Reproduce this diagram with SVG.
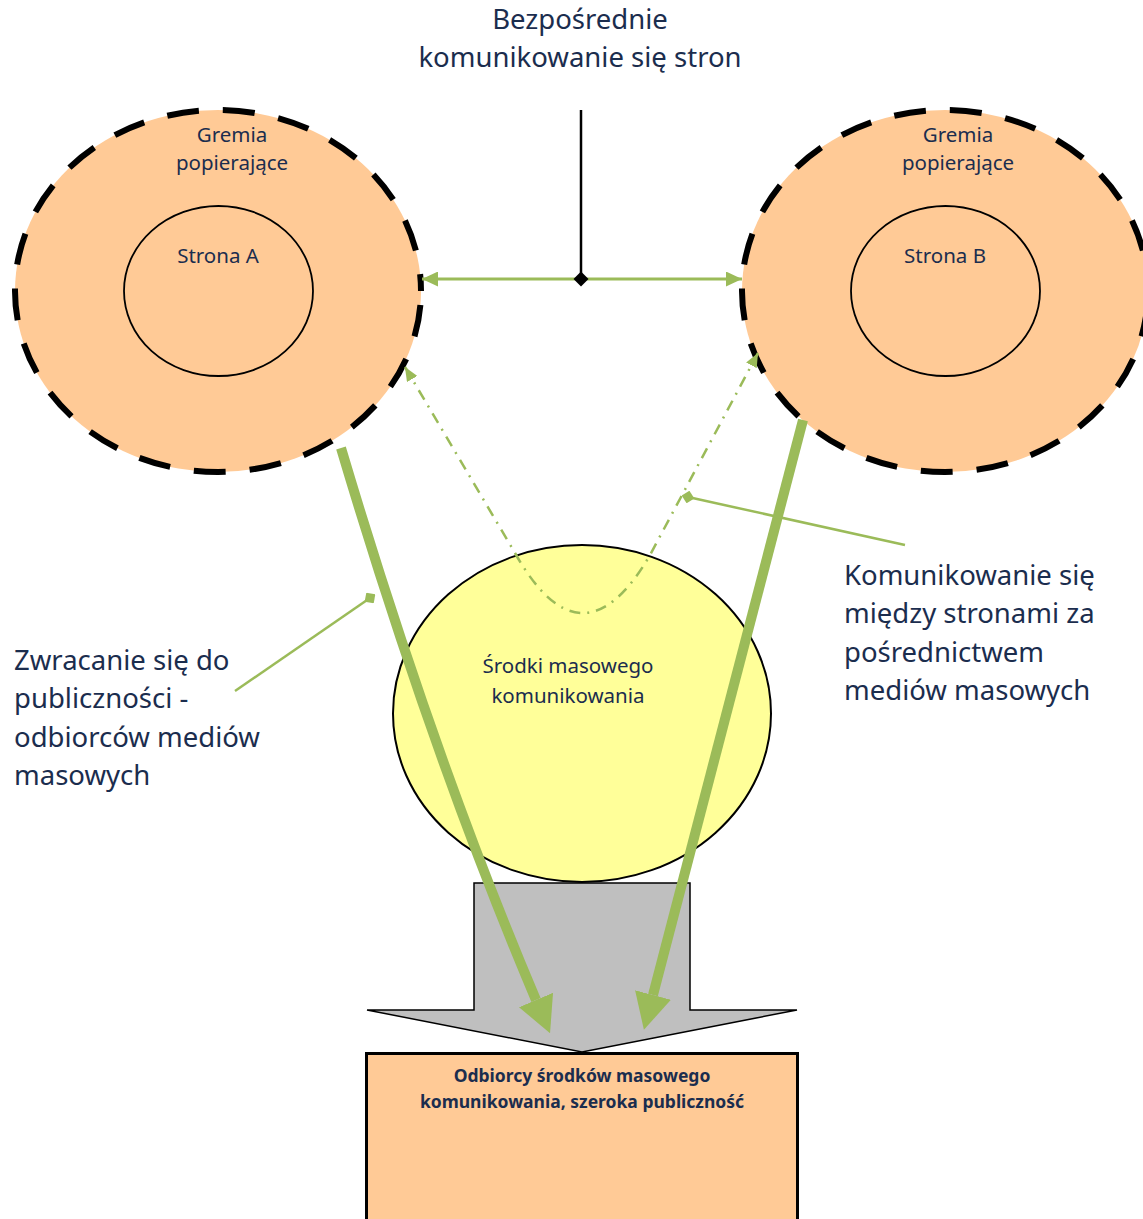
<svg xmlns="http://www.w3.org/2000/svg" width="1143" height="1219" viewBox="0 0 1143 1219">
<style>
text{font-family:"Noto Sans","Open Sans",sans-serif;fill:#1B2D4E}
.big{font-size:27.5px}
.mid{font-size:20.5px}
.bold{font-size:17.5px;font-weight:bold}
.outer{fill:#FFCA96;stroke:#000;stroke-width:6;stroke-dasharray:32 24;stroke-dashoffset:42}
.inner{fill:none;stroke:#000;stroke-width:1.8}
.g{fill:none;stroke:#9BBB59}
</style>
<defs>
<marker id="ah" markerUnits="userSpaceOnUse" viewBox="0 0 16 15" markerWidth="16" markerHeight="15" refX="16" refY="7.5" orient="auto-start-reverse"><path d="M0,0 L16,7.5 L0,15 z" fill="#9BBB59"/></marker>
<marker id="ahs" markerUnits="userSpaceOnUse" viewBox="0 0 14 12" markerWidth="14" markerHeight="12" refX="14" refY="6" orient="auto-start-reverse"><path d="M0,0 L14,6 L0,12 z" fill="#9BBB59"/></marker>
<marker id="big" markerUnits="userSpaceOnUse" viewBox="0 0 36 37" markerWidth="36" markerHeight="37" refX="0" refY="18.5" orient="auto"><path d="M0,0 L36,18.5 L0,37 z" fill="#9BBB59"/></marker>
<marker id="dia" markerUnits="userSpaceOnUse" viewBox="0 0 13 13" markerWidth="13" markerHeight="13" refX="6.5" refY="6.5" orient="auto"><path d="M0,6.5 L6.5,0 L13,6.5 L6.5,13 z" fill="#9BBB59"/></marker>
</defs>

<g id="title">
<text class="big" x="580" y="29" text-anchor="middle">Bezpośrednie</text>
<text class="big" x="580" y="67" text-anchor="middle">komunikowanie się stron</text>
</g>

<g id="gremiaA">
<ellipse class="outer" cx="218" cy="291" rx="203" ry="181"/>
<text class="mid" x="232" y="142" text-anchor="middle">Gremia</text>
<text class="mid" x="232" y="170" text-anchor="middle">popierające</text>
</g>
<g id="stronaA">
<ellipse class="inner" cx="218.5" cy="291" rx="94.5" ry="85"/>
<text class="mid" x="218" y="263" text-anchor="middle">Strona A</text>
</g>

<g id="gremiaB">
<ellipse class="outer" cx="945" cy="291" rx="203" ry="181"/>
<text class="mid" x="958" y="142" text-anchor="middle">Gremia</text>
<text class="mid" x="958" y="170" text-anchor="middle">popierające</text>
</g>
<g id="stronaB">
<ellipse class="inner" cx="945.5" cy="291" rx="94.5" ry="85"/>
<text class="mid" x="945" y="263" text-anchor="middle">Strona B</text>
</g>

<g id="media">
<ellipse cx="582" cy="713.5" rx="189" ry="168.5" fill="#FFFF99" stroke="#000" stroke-width="2"/>
<text class="mid" x="568" y="673" text-anchor="middle">Środki masowego</text>
<text class="mid" x="568" y="703" text-anchor="middle">komunikowania</text>
</g>

<g id="blockArrow">
<path d="M474,883 L690,883 L690,1010 L797,1010 L582,1052 L367,1010 L474,1010 Z" fill="#BFBFBF" stroke="#000" stroke-width="1.5"/>
</g>

<g id="audience">
<rect x="366.5" y="1053.5" width="431" height="180" fill="#FFCA96" stroke="#000" stroke-width="3"/>
<text class="bold" x="582" y="1082" text-anchor="middle">Odbiorcy środków masowego</text>
<text class="bold" x="582" y="1108" text-anchor="middle">komunikowania, szeroka publiczność</text>
</g>

<g id="labelLeft">
<text class="big" x="14" y="670">Zwracanie się do</text>
<text class="big" x="14" y="708">publiczności -</text>
<text class="big" x="14" y="747">odbiorców mediów</text>
<text class="big" x="14" y="785">masowych</text>
</g>
<g id="labelRight">
<text class="big" x="844" y="585">Komunikowanie się</text>
<text class="big" x="844" y="623">między stronami za</text>
<text class="big" x="844" y="662">pośrednictwem</text>
<text class="big" x="844" y="700">mediów masowych</text>
</g>

<g id="connectors">
<line x1="581" y1="110" x2="581" y2="279" stroke="#000" stroke-width="2.5"/>
<line class="g" x1="422" y1="279" x2="742" y2="279" stroke-width="3" marker-start="url(#ah)" marker-end="url(#ah)"/>
<path d="M581,271.5 L588.5,279 L581,286.5 L573.5,279 Z" fill="#000"/>
<path class="g" d="M405,367 L515,553 Q582,672 650,555 L758,353" stroke-width="2.5" stroke-dasharray="11 7 2 7" marker-start="url(#ahs)" marker-end="url(#ahs)"/>
<path class="g" d="M341,448 Q433,757 536,1000" stroke-width="10" marker-end="url(#big)"/>
<path class="g" d="M803,420 L653,995" stroke-width="10" marker-end="url(#big)"/>
<line class="g" x1="370" y1="598" x2="235" y2="691" stroke-width="2.5" marker-start="url(#dia)"/>
<line class="g" x1="688" y1="497" x2="905" y2="545" stroke-width="2.5" marker-start="url(#dia)"/>
</g>
</svg>
